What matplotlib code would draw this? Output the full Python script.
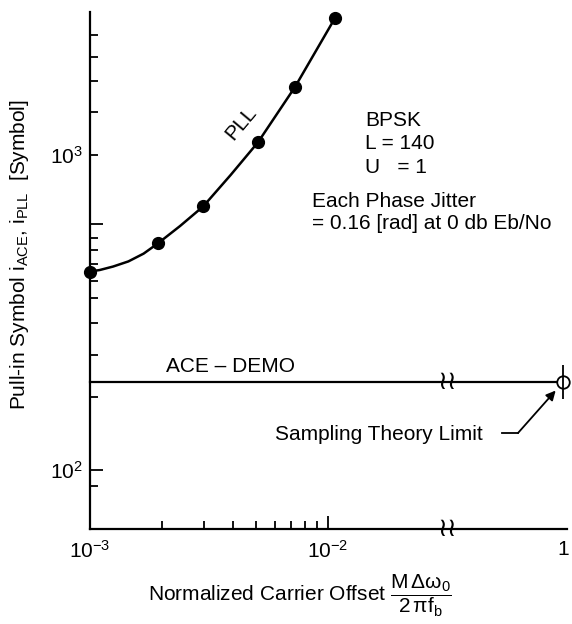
import numpy as np
import matplotlib
matplotlib.use("Agg")
import matplotlib.pyplot as plt
from matplotlib.lines import Line2D

plt.rcParams["font.family"] = ["Liberation Sans", "DejaVu Sans"]
plt.rcParams["mathtext.fontset"] = "custom"
plt.rcParams["mathtext.rm"] = "Liberation Sans"
plt.rcParams["mathtext.it"] = "Liberation Sans"
plt.rcParams["mathtext.bf"] = "Liberation Sans:bold"

# PLL pull-in measurements (dots) and the drawn curve through them
pll_x = [1.0e-3, 1.93e-3, 2.99e-3, 5.08e-3, 7.26e-3, 1.07e-2]
pll_y = [427, 525, 688, 1100, 1647, 2731]
pll_curve_x = [1.0e-3, 1.1e-3, 1.25e-3, 1.45e-3, 1.68e-3, 1.93e-3, 2.39e-3, 2.99e-3, 3.9e-3, 5.08e-3, 7.26e-3, 1.07e-2]
pll_curve_y = [427, 432, 443, 460, 487, 525, 596, 688, 866, 1100, 1647, 2731]

# ACE-DEMO is flat up to the sampling theory limit
ace_x = [1.0e-3, 1.0]
ace_y = [190, 190]
limit_x = [1.0]
limit_y = [190]

# axis ticks
x_major = [1e-3, 1e-2, 1.0]
x_major_labels = [r"$10^{-3}$", r"$10^{-2}$", "1"]
x_minor = [2e-3, 3e-3, 4e-3, 5e-3, 6e-3, 7e-3, 8e-3, 9e-3]
y_major = [100, 607, 1000]
y_major_labels = [r"$10^2$", "", r"$10^3$"]
y_minor = [89, 170, 232, 294, 351, 400, 450, 499, 545, 1371, 1722, 2051, 2410]

# broken x axis: normal log up to the break, compressed afterwards
x_break = 10 ** -1.5
squeeze = 0.325
lb = np.log10(x_break)


def fwd(x):
    x = np.asarray(x, dtype=float)
    with np.errstate(divide="ignore", invalid="ignore"):
        lx = np.log10(x)
    return np.where(lx <= lb, lx, lb + (lx - lb) * squeeze)


def inv(y):
    y = np.asarray(y, dtype=float)
    return np.where(y <= lb, 10 ** y, 10 ** (lb + (y - lb) / squeeze))


W, H = 572, 624


def fpos(px, py):
    return px / W, 1 - py / H


fig = plt.figure(figsize=(W / 100, H / 100), dpi=100)
ax = fig.add_axes([90 / W, 1 - 529 / H, (567 - 90) / W, (529 - 12) / H])

ax.set_xscale("function", functions=(fwd, inv))
ax.set_yscale("log")
ax.set_xlim(1e-3, 1.125)
ax.set_ylim(64.9, 2854)

ax.plot(pll_curve_x, pll_curve_y, color="black", lw=1.8, clip_on=False, zorder=3)
ax.plot(pll_x, pll_y, "o", color="black", ms=8.5, clip_on=False, zorder=4)
ax.plot(ace_x, ace_y, color="black", lw=1.6, clip_on=False, zorder=3)
ax.plot(limit_x, limit_y, "o", mfc="white", mec="black", mew=1.3, ms=9, clip_on=False, zorder=5)
ax.plot(limit_x, limit_y, "|", color="black", mew=1.3, ms=24, clip_on=False, zorder=6)

ax.set_xticks(x_major, x_major_labels)
ax.set_xticks(x_minor, minor=True)
ax.set_yticks(y_major, y_major_labels)
ax.set_yticks(y_minor, minor=True)
ax.yaxis.set_minor_formatter(matplotlib.ticker.NullFormatter())
ax.xaxis.set_minor_formatter(matplotlib.ticker.NullFormatter())

ax.tick_params(which="both", direction="in", width=1.3, colors="black", labelsize=15)
ax.tick_params(which="major", length=9.5)
ax.tick_params(which="minor", length=5.5)
ax.tick_params(axis="y", pad=5)
ax.tick_params(axis="x", pad=8)
ax.yaxis.get_major_ticks()[2].tick1line.set_markersize(5.5)
ax.xaxis.get_major_ticks()[2].tick1line.set_visible(False)

for s in ["top", "right"]:
    ax.spines[s].set_visible(False)
for s in ["left", "bottom"]:
    ax.spines[s].set_linewidth(1.6)

# break marks on the ACE line and on the x axis
for yv, tr in [(ace_y[0], ax.transData), (0, ax.get_xaxis_transform())]:
    ax.text(x_break, yv, "\u2240\u2240", transform=tr, ha="center", va="center",
            fontsize=19, family="DejaVu Sans", color="black", zorder=7)

# annotations
ax.text(*fpos(241, 123), "PLL", transform=fig.transFigure, rotation=50,
        ha="center", va="center", fontsize=15, rotation_mode="anchor")
fig.text(*fpos(166, 372), "ACE \u2013 DEMO", fontsize=15, ha="left", va="baseline")
for txt, py in [("BPSK", 126), ("L = 140", 149), ("U   = 1", 173)]:
    fig.text(*fpos(365, py), txt, fontsize=15, ha="left", va="baseline")
fig.text(*fpos(312, 207), "Each Phase Jitter", fontsize=15, ha="left", va="baseline")
fig.text(*fpos(312, 229), "= 0.16 [rad] at 0 db Eb/No", fontsize=15, ha="left", va="baseline")
fig.text(*fpos(275, 440), "Sampling Theory Limit", fontsize=15, ha="left", va="baseline")

fig.add_artist(Line2D([502 / W, 518 / W], [1 - 433 / H, 1 - 433 / H], color="black", lw=1.3))
ax.annotate("", xy=(1.0, ace_y[0]), xytext=fpos(518, 433), textcoords="figure fraction",
            arrowprops=dict(arrowstyle="-|>", color="black", lw=1.3, shrinkA=0, shrinkB=8,
                            mutation_scale=14))

fig.text(*fpos(20, 255), r"Pull-in Symbol $\mathrm{i_{ACE}}$, $\mathrm{i_{PLL}}$  [Symbol]",
         rotation=90, ha="center", va="center", fontsize=15)
fig.text(*fpos(300, 602),
         r"Normalized Carrier Offset $\dfrac{\mathrm{M\,\Delta\omega_0}}{\mathrm{2\,\pi f_b}}$",
         ha="center", va="baseline", fontsize=15)

fig.savefig("out.png", dpi=100)
